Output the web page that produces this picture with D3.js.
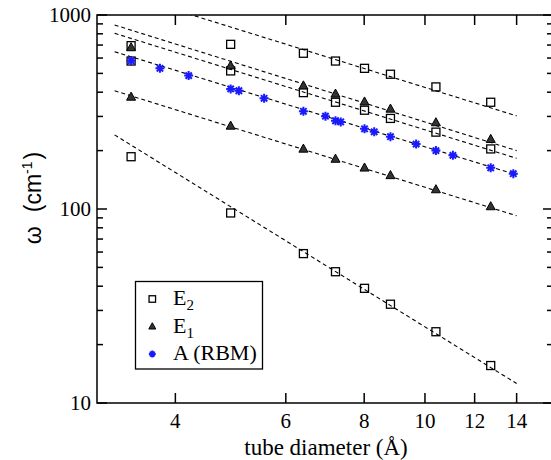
<!DOCTYPE html>
<html><head><meta charset="utf-8">
<script src="https://cdn.jsdelivr.net/npm/d3@7"></script>
<style>body{margin:0;background:#fff}svg{display:block}</style>
</head><body><svg id="c" width="551" height="460"></svg>
<script>
// ---- data ----
const diameters = [3.40, 4.90, 6.40, 7.20, 8.01, 8.81, 10.41, 12.73];
const e2Upper = [695, 706, 635, 579, 531, 495, 426, 355];
const e2Middle = [579, 515, 398, 355, 323, 293, 249, 204];
const e2Lower = [186, 95.4, 58.9, 47.5, 39.0, 32.3, 23.3, 15.6];
const e1Upper = [680, 548, 432, 392, 357, 328, 279, 229];
const e1Lower = [378, 268, 204, 181, 163, 149, 126, 103];
const rbmDiameters = [3.40, 3.78, 4.20, 4.90, 5.05, 5.54, 6.40, 6.94, 7.20, 7.34, 8.01, 8.30, 8.81, 9.68, 10.41, 11.08, 12.73, 13.83];
const rbmFreq = [581, 531, 487, 416, 407, 372, 319, 301, 285, 281, 259, 250, 236, 216, 200, 189, 163, 152];
// fitted power-law lines, value at the two ends
const fitDiam = [3.2, 14];
const fitE2Upper = [1330, 302];
const fitE1Upper = [888, 200];
const fitE2Middle = [805, 182.5];
const fitRbm = [647, 150];
const fitE1Lower = [407, 92.3];
const fitE2Lower = [241, 12.6];
const xTicks = [4, 6, 8, 10, 12, 14];
const yMajor = [10, 100, 1000];
const yMinor = [20, 30, 40, 50, 60, 70, 80, 90, 200, 300, 400, 500, 600, 700, 800, 900];
const legendLabels = [["E", "2"], ["E", "1"], ["A (RBM)", ""]];

// ---- drawing ----
const svg = d3.select("#c");
const L = 97, R = 553, T = 15, B = 403;
const x = d3.scaleLog().domain([3, 16]).range([L, R]);
const y = d3.scaleLog().domain([10, 1000]).range([B, T]);
const serif = "'Liberation Serif','Times New Roman',serif";
const sans = "'Liberation Sans',Arial,sans-serif";

svg.append("defs").append("clipPath").attr("id", "clip")
  .append("rect").attr("x", L).attr("y", T).attr("width", R - L).attr("height", B - T);

const plot = svg.append("g").attr("clip-path", "url(#clip)");

// fit lines
const fits = [fitE2Upper, fitE1Upper, fitE2Middle, fitRbm, fitE1Lower, fitE2Lower];
const line = d3.line().x(d => x(d[0])).y(d => y(d[1]));
fits.forEach(f => {
  plot.append("path").attr("d", line(fitDiam.map((d, i) => [d, f[i]])))
    .attr("fill", "none").attr("stroke", "#000").attr("stroke-width", 1.1)
    .attr("stroke-dasharray", "4,3");
});

function square(g, cx, cy, s) {
  g.append("rect").attr("x", cx - s / 2).attr("y", cy - s / 2).attr("width", s).attr("height", s)
    .attr("fill", "#fff").attr("fill-opacity", 0).attr("stroke", "#000").attr("stroke-width", 1.3);
}
function triangle(g, cx, cy, s) {
  const h = s * 0.9;
  g.append("path").attr("d", `M${cx},${cy - h * 0.6}L${cx + s / 2},${cy + h * 0.4}L${cx - s / 2},${cy + h * 0.4}Z`)
    .attr("fill", "#333").attr("stroke", "#000").attr("stroke-width", 1);
}
function star(g, cx, cy, r) {
  let p = "";
  for (let k = 0; k < 4; k++) {
    const a = k * Math.PI / 4;
    const dx = r * Math.cos(a), dy = r * Math.sin(a);
    p += `M${cx - dx},${cy - dy}L${cx + dx},${cy + dy}`;
  }
  g.append("path").attr("d", p).attr("stroke", "#1a1aff").attr("stroke-width", 2).attr("fill", "none");
}

const marks = svg.append("g");
[e2Upper, e2Middle, e2Lower].forEach(s => s.forEach((v, i) => square(marks, x(diameters[i]), y(v), 8)));
[e1Upper, e1Lower].forEach(s => s.forEach((v, i) => triangle(marks, x(diameters[i]), y(v), 9)));
rbmFreq.forEach((v, i) => star(marks, x(rbmDiameters[i]), y(v), 4.5));

// frame
const ax = svg.append("g").attr("stroke", "#000").attr("stroke-width", 1.5);
ax.append("rect").attr("x", L).attr("y", T).attr("width", R - L).attr("height", B - T).attr("fill", "none");
xTicks.forEach(t => {
  ax.append("line").attr("x1", x(t)).attr("x2", x(t)).attr("y1", B).attr("y2", B - 10);
  ax.append("line").attr("x1", x(t)).attr("x2", x(t)).attr("y1", T).attr("y2", T + 10);
});
yMajor.forEach(t => {
  ax.append("line").attr("x1", L).attr("x2", L + 10).attr("y1", y(t)).attr("y2", y(t));
  ax.append("line").attr("x1", R).attr("x2", R - 10).attr("y1", y(t)).attr("y2", y(t));
});
yMinor.forEach(t => {
  ax.append("line").attr("x1", L).attr("x2", L + 6).attr("y1", y(t)).attr("y2", y(t));
  ax.append("line").attr("x1", R).attr("x2", R - 6).attr("y1", y(t)).attr("y2", y(t));
});

// tick labels
svg.append("g").selectAll("text").data(xTicks).join("text")
  .attr("x", d => x(d)).attr("y", 428).attr("text-anchor", "middle")
  .attr("font-family", serif).attr("font-size", 21).text(d => d);
svg.append("g").selectAll("text").data(yMajor).join("text")
  .attr("x", 91).attr("y", d => y(d) + 7).attr("text-anchor", "end")
  .attr("font-family", serif).attr("font-size", 21).text(d => d);

// axis titles
svg.append("text").attr("x", 326).attr("y", 455).attr("text-anchor", "middle")
  .attr("font-family", serif).attr("font-size", 23).text("tube diameter (Å)");
const yl = svg.append("text").attr("transform", "translate(41,198) rotate(-90)")
  .attr("text-anchor", "middle").attr("font-family", sans).attr("font-size", 23);
yl.append("tspan").text("ω");
yl.append("tspan").attr("dx", 14).text("(cm");
yl.append("tspan").attr("font-size", 14).attr("dy", -9).text("-1");
yl.append("tspan").attr("dy", 9).attr("dx", 2).text(")");

// legend
const lg = svg.append("g");
lg.append("rect").attr("x", 135.5).attr("y", 281.5).attr("width", 127).attr("height", 87.5)
  .attr("fill", "#fff").attr("stroke", "#000").attr("stroke-width", 1.3);
const rowY = [299, 326.5, 354];
square(lg, 152.3, rowY[0], 6.5);
triangle(lg, 152.3, rowY[1], 7);
star(lg, 152.3, rowY[2], 3.4);
legendLabels.forEach((lab, i) => {
  const t = lg.append("text").attr("x", 173).attr("y", rowY[i] + 6)
    .attr("font-family", serif).attr("font-size", 22);
  t.append("tspan").text(lab[0]);
  if (lab[1]) t.append("tspan").attr("font-size", 15).attr("dy", 5).text(lab[1]);
});
</script></body></html>
